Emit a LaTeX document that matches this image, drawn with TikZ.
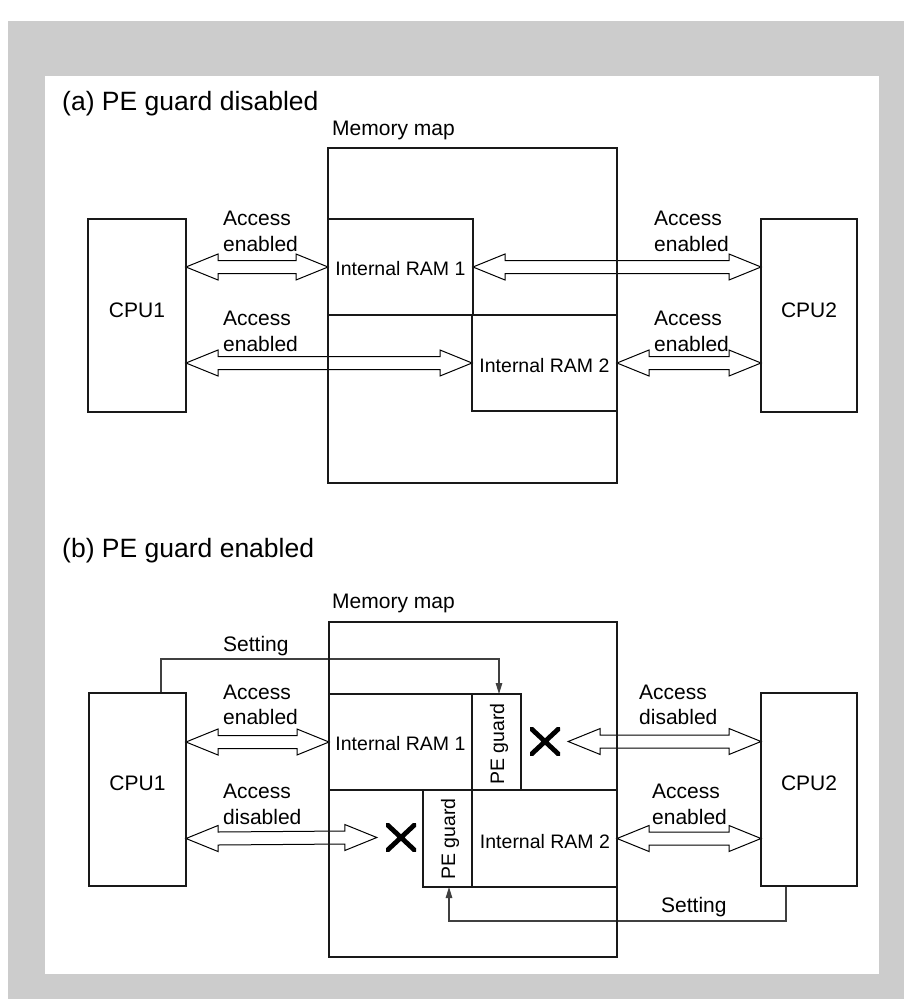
\documentclass[tikz,border=0pt]{standalone}
\usepackage{fontspec}
\setmainfont{Liberation Sans}
\usetikzlibrary{calc,arrows.meta}
\newcommand{\dblarr}[2]{%
  \draw[arr] (#1) -- ([shift={(32,-13)}]#1) -- ([shift={(32,-6.5)}]#1)
    -- ([shift={(-32,-6.5)}]#2) -- ([shift={(-32,-13)}]#2) -- (#2)
    -- ([shift={(-32,13)}]#2) -- ([shift={(-32,6.5)}]#2)
    -- ([shift={(32,6.5)}]#1) -- ([shift={(32,13)}]#1) -- cycle;}
\begin{document}
\begin{tikzpicture}[x=1pt,y=-1pt,
  box/.style={draw=black!90,line width=2.6pt,inner sep=0pt,outer sep=0pt,rectangle},
  arr/.style={draw=black,line width=1pt,fill=white,line join=miter},
  setl/.style={draw=black!75,line width=1.2pt},
  tip/.style={-{Triangle[length=11pt,width=6.5pt]}},
  lbl/.style={inner sep=0pt,anchor=base west,font=\fontsize{21}{25}\selectfont},
  ctr/.style={inner sep=0pt,anchor=base,font=\fontsize{21}{25}\selectfont},
  ram/.style={inner sep=0pt,anchor=base,font=\fontsize{19.5}{24}\selectfont},
  grd/.style={inner sep=0pt,anchor=base,rotate=90,font=\fontsize{19.5}{24}\selectfont},
  ttl/.style={inner sep=0pt,anchor=base west,font=\fontsize{26.5}{30}\selectfont},
  xmk/.style={inner sep=0pt,minimum width=30pt,minimum height=28pt,
    path picture={\draw[line width=4.8pt]
      (path picture bounding box.south west)--(path picture bounding box.north east)
      (path picture bounding box.north west)--(path picture bounding box.south east);}}]
\useasboundingbox (0,0) rectangle (904,999);
\fill[gray!40] (8,21) rectangle (904,999);
\fill[white] (45,76) rectangle (879,974);

% ---------------- (a) ----------------
\node[ttl] (ta) at (62,110) {(a) PE guard disabled};
\node[lbl] (mmla) at (332,135) {Memory map};

\node[box,minimum width=98pt,minimum height=193pt] (cpuA) at (137,315.5) {};
\node[box,minimum width=96pt,minimum height=193pt] (cpuB) at (809,315.5) {};
\node[box,minimum width=145pt,minimum height=96pt] (ramA1) at (400.5,267) {};
\node[box,minimum width=145pt,minimum height=96pt] (ramA2) at (544.5,363) {};

\coordinate (a1l) at (cpuA.east |- ramA1.west);
\coordinate (a2r) at (cpuB.west |- ramA1.east);
\coordinate (a3l) at (cpuA.east |- ramA2.west);
\coordinate (a4r) at (cpuB.west |- ramA2.east);
\dblarr{a1l}{ramA1.west}
\dblarr{ramA1.east}{a2r}
\dblarr{a3l}{ramA2.west}
\dblarr{ramA2.east}{a4r}

\node[box,minimum width=289pt,minimum height=335pt] (mapA) at (472.5,315.5) {};
\draw[box] (ramA1.north west) rectangle (ramA1.south east);
\draw[box] (ramA2.north west) rectangle (ramA2.south east);
\draw[box] (cpuA.north west) rectangle (cpuA.south east);
\draw[box] (cpuB.north west) rectangle (cpuB.south east);

\node[ctr] (cpuAt) at (137,317) {CPU1};
\node[ctr] (cpuBt) at (809,317) {CPU2};
\node[ram] (ramA1t) at (400.5,275.5) {Internal RAM 1};
\node[ram] (ramA2t) at (544.5,372) {Internal RAM 2};

\node[lbl] (la1) at (223,225) {Access};
\node[lbl] (la2) at (223,251) {enabled};
\node[lbl] (lb1) at (654,225) {Access};
\node[lbl] (lb2) at (654,251) {enabled};
\node[lbl] (lc1) at (223,325) {Access};
\node[lbl] (lc2) at (223,351) {enabled};
\node[lbl] (ld1) at (654,325) {Access};
\node[lbl] (ld2) at (654,351) {enabled};

% ---------------- (b) ----------------
\node[ttl] (tb) at (62,557) {(b) PE guard enabled};
\node[lbl] (mmlb) at (332,608) {Memory map};

\node[box,minimum width=97pt,minimum height=193pt] (cpuC) at (137.5,789.5) {};
\node[box,minimum width=96pt,minimum height=193pt] (cpuD) at (809,789.5) {};
\node[box,minimum width=143pt,minimum height=96pt] (ramB1) at (400.5,742) {};
\node[box,minimum width=49pt,minimum height=96pt] (grdB1) at (496.5,742) {};
\node[box,minimum width=145pt,minimum height=97pt] (ramB2) at (544.5,838.5) {};
\node[box,minimum width=49pt,minimum height=97pt] (grdB2) at (447.5,838.5) {};

\node[xmk] (x1) at (545,741.5) {};
\node[xmk] (x2) at (401,837.5) {};

\coordinate (b1l) at (cpuC.east |- ramB1.west);
\coordinate (b2l) at ([shift={(8,0)}]x1.east);
\coordinate (b2r) at (cpuD.west |- b2l);
\coordinate (b3l) at (cpuC.east |- ramB2.west);
\coordinate (b3r) at ([shift={(-9,0)}]x2.west);
\coordinate (b4r) at (cpuD.west |- ramB2.east);
\dblarr{b1l}{ramB1.west}
\dblarr{b2l}{b2r}
\dblarr{b3l}{b3r}
\dblarr{ramB2.east}{b4r}

% setting lines
\coordinate (s1a) at ([shift={(72,0)}]cpuC.north west);
\coordinate (s1b) at ([shift={(2.5,0)}]grdB1.north);
\draw[setl,tip] (s1a) |- ([shift={(0,-35)}]s1b) -- (s1b);
\coordinate (s2a) at ([shift={(25,0)}]cpuD.south west);
\coordinate (s2b) at ([shift={(1.5,0)}]grdB2.south);
\draw[setl,tip] (s2a) |- ([shift={(0,34)}]s2b) -- (s2b);

\node[box,minimum width=288pt,minimum height=335pt] (mapB) at (473,789.5) {};
\draw[box] (ramB1.north west) rectangle (ramB1.south east);
\draw[box] (grdB1.north west) rectangle (grdB1.south east);
\draw[box] (ramB2.north west) rectangle (ramB2.south east);
\draw[box] (grdB2.north west) rectangle (grdB2.south east);
\draw[box] (cpuC.north west) rectangle (cpuC.south east);
\draw[box] (cpuD.north west) rectangle (cpuD.south east);

\node[ctr] (cpuCt) at (137.5,790.5) {CPU1};
\node[ctr] (cpuDt) at (809,790.5) {CPU2};
\node[ram] (ramB1t) at (400.5,750.5) {Internal RAM 1};
\node[ram] (ramB2t) at (545,848) {Internal RAM 2};
\node[grd] (grdB1t) at (504,744) {PE guard};
\node[grd] (grdB2t) at (455,839) {PE guard};

\node[lbl] (st1) at (223,651) {Setting};
\node[lbl] (st2) at (661,912) {Setting};

\node[lbl] (le1) at (223,699) {Access};
\node[lbl] (le2) at (223,724) {enabled};
\node[lbl] (lf1) at (639,699) {Access};
\node[lbl] (lf2) at (639,724) {disabled};
\node[lbl] (lg1) at (223,798) {Access};
\node[lbl] (lg2) at (223,824) {disabled};
\node[lbl] (lh1) at (652,798) {Access};
\node[lbl] (lh2) at (652,824) {enabled};
\end{tikzpicture}
\end{document}
